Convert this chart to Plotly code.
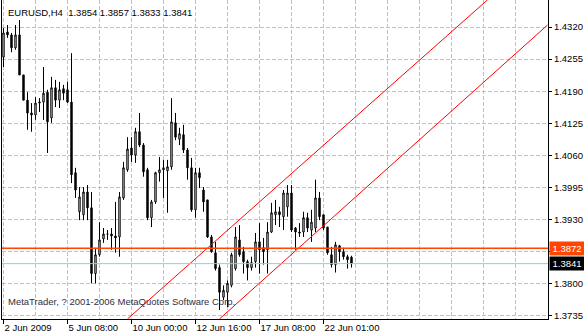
import plotly.graph_objects as go

# ---- data (EURUSD H4, bar index 0..87) ----
opens = [1.4259,1.4310,1.4304,1.4278,1.4304,1.4223,1.4172,1.4146,1.4142,1.4166,
         1.4168,1.4188,1.4136,1.4197,1.4172,1.4195,1.4193,1.4168,1.4025,1.3946,
         1.3940,1.3986,1.3954,1.3821,1.3859,1.3891,1.3901,1.3901,1.3897,1.3895,
         1.3974,1.4031,1.4075,1.4061,1.4108,1.4081,1.4031,1.3934,1.3966,1.4025,
         1.4031,1.4029,1.4037,1.4126,1.4093,1.4102,1.4071,1.4035,1.3950,1.4025,
         1.3990,1.3970,1.3895,1.3863,1.3833,1.3773,1.3783,1.3797,1.3831,1.3889,
         1.3865,1.3845,1.3833,1.3845,1.3885,1.3873,1.3869,1.3905,1.3940,1.3946,
         1.3936,1.3956,1.3984,1.3913,1.3905,1.3905,1.3934,1.3909,1.3913,1.3974,
         1.3940,1.3915,1.3859,1.3839,1.3877,1.3865,1.3855,1.3854]
highs = [1.4318,1.4324,1.4308,1.4324,1.4334,1.4223,1.4188,1.4166,1.4178,1.4176,
         1.4239,1.4193,1.4219,1.4213,1.4209,1.4203,1.4209,1.4267,1.4035,1.3996,
         1.3996,1.4000,1.3986,1.3873,1.3925,1.3913,1.3909,1.3913,1.3966,1.3986,
         1.4047,1.4097,1.4097,1.4116,1.4146,1.4085,1.4035,1.3970,1.4027,1.4057,
         1.4051,1.4051,1.4176,1.4146,1.4116,1.4122,1.4075,1.4055,1.4035,1.4035,
         1.3996,1.3970,1.3899,1.3885,1.3839,1.3797,1.3807,1.3863,1.3915,1.3919,
         1.3875,1.3849,1.3855,1.3903,1.3923,1.3893,1.3925,1.3964,1.3970,1.3956,
         1.3990,1.4000,1.4000,1.3915,1.3923,1.3946,1.3944,1.3950,1.4011,1.3986,
         1.3940,1.3915,1.3875,1.3885,1.3879,1.3873,1.3859,1.3857]
lows = [1.4239,1.4298,1.4269,1.4274,1.4223,1.4172,1.4112,1.4108,1.4132,1.4148,
        1.4132,1.4065,1.4126,1.4158,1.4156,1.4172,1.4166,1.4004,1.3974,1.3929,
        1.3929,1.3929,1.3801,1.3801,1.3855,1.3883,1.3889,1.3869,1.3863,1.3855,
        1.3970,1.4027,1.4047,1.4045,1.4077,1.4017,1.3929,1.3915,1.3962,1.4007,
        1.3974,1.3944,1.4031,1.4091,1.4081,1.4065,1.4011,1.3946,1.3934,1.3994,
        1.3946,1.3893,1.3863,1.3827,1.3747,1.3767,1.3753,1.3793,1.3827,1.3855,
        1.3821,1.3807,1.3827,1.3833,1.3821,1.3839,1.3821,1.3903,1.3919,1.3915,
        1.3909,1.3936,1.3905,1.3869,1.3895,1.3895,1.3905,1.3885,1.3905,1.3929,
        1.3909,1.3859,1.3833,1.3823,1.3845,1.3849,1.3831,1.3833]
closes = [1.4308,1.4304,1.4278,1.4304,1.4223,1.4172,1.4146,1.4142,1.4166,1.4168,
          1.4186,1.4128,1.4197,1.4172,1.4193,1.4186,1.4168,1.4021,1.3990,1.3976,
          1.3986,1.3954,1.3821,1.3859,1.3889,1.3901,1.3901,1.3897,1.3893,1.3976,
          1.4035,1.4073,1.4061,1.4108,1.4081,1.4027,1.3934,1.3966,1.4025,1.4031,
          1.4035,1.4037,1.4128,1.4097,1.4104,1.4071,1.4035,1.3950,1.4025,1.4015,
          1.3966,1.3895,1.3865,1.3831,1.3783,1.3787,1.3801,1.3859,1.3895,1.3859,
          1.3845,1.3833,1.3843,1.3885,1.3869,1.3865,1.3905,1.3944,1.3946,1.3940,
          1.3984,1.3984,1.3909,1.3905,1.3903,1.3934,1.3913,1.3925,1.3974,1.3936,
          1.3913,1.3863,1.3839,1.3879,1.3865,1.3855,1.3849,1.3841]
bars = list(range(len(opens)))

tick_bars = [0, 16, 32, 48, 64, 80]
tick_labels = ["2 Jun 2009", "5 Jun 08:00", "10 Jun 00:00", "12 Jun 16:00",
               "17 Jun 08:00", "22 Jun 01:00"]

price_ticks = [1.3735, 1.3800, 1.3865, 1.3930, 1.3995, 1.4060, 1.4125, 1.4190, 1.4255, 1.4320]
price_labels = ["1.3735", "1.3800", "", "1.3930", "1.3995", "1.4060", "1.4125", "1.4190", "1.4255", "1.4320"]

channel_upper_x = [31, 121]
channel_upper_y = [1.3729, 1.4375]
channel_lower_x = [54, 136]
channel_lower_y = [1.3729, 1.4324]

level_price = 1.3872
bid_price = 1.3841
header = "EURUSD,H4  1.3854 1.3857 1.3833 1.3841"
footer = "MetaTrader, ? 2001-2006 MetaQuotes Software Corp."

FONT = "Liberation Sans"
GRID = "#8ed6e0"

fig = go.Figure()
fig.add_trace(go.Candlestick(
    x=bars, open=opens, high=highs, low=lows, close=closes,
    increasing=dict(fillcolor="white", line=dict(color="black", width=1)),
    decreasing=dict(fillcolor="black", line=dict(color="black", width=1)),
    whiskerwidth=0, hoverinfo="skip", showlegend=False))

fig.add_trace(go.Scatter(x=channel_upper_x, y=channel_upper_y, mode="lines",
                         line=dict(color="#ff0000", width=1), showlegend=False, hoverinfo="skip"))
fig.add_trace(go.Scatter(x=channel_lower_x, y=channel_lower_y, mode="lines",
                         line=dict(color="#ff0000", width=1), showlegend=False, hoverinfo="skip"))

fig.add_hline(y=bid_price, line=dict(color="#80d4e4", width=1))
fig.add_hline(y=level_price, line=dict(color="#ff4500", width=1.5))

fig.update_layout(
    width=584, height=332,
    margin=dict(l=2, r=36, t=0, b=13),
    paper_bgcolor="white", plot_bgcolor="white",
    font=dict(family=FONT, size=9.5, color="black"),
    showlegend=False,
    boxgap=0.5,
    xaxis=dict(
        range=[-0.375, 136.125], rangeslider=dict(visible=False),
        tickmode="array", tickvals=tick_bars, ticktext=tick_labels,
        ticks="outside", ticklen=4, tickcolor="black",
        ticklabelposition="outside right",
        showline=True, linecolor="black", linewidth=1,
        showgrid=True, gridcolor=GRID, griddash="4px,2px", gridwidth=1,
        minor=dict(dtick=8, tick0=0, showgrid=True, gridcolor=GRID, griddash="4px,2px"),
        zeroline=False, automargin=False,
    ),
    yaxis=dict(
        range=[1.37289, 1.43747], side="right",
        tickmode="array", tickvals=price_ticks, ticktext=price_labels,
        ticks="outside", ticklen=3, tickcolor="black",
        showline=True, mirror=True, linecolor="black", linewidth=1,
        showgrid=True, gridcolor=GRID, griddash="4px,2px", gridwidth=1,
        zeroline=False, automargin=False,
    ),
    annotations=[
        dict(text=header, xref="paper", yref="paper", x=0.008, y=0.985,
             xanchor="left", yanchor="top", showarrow=False,
             font=dict(family=FONT, size=9.5, color="black")),
        dict(text=footer, xref="paper", yref="paper", x=0.008, y=0.03,
             xanchor="left", yanchor="bottom", showarrow=False,
             font=dict(family=FONT, size=9.5, color="#303040")),
        dict(text=f"{level_price:.4f}", xref="paper", yref="y", x=1, y=level_price,
             xanchor="left", yanchor="middle", xshift=1, showarrow=False,
             bgcolor="#ff4500", borderpad=1, width=32,
             font=dict(family=FONT, size=9.5, color="white")),
        dict(text=f"{bid_price:.4f}", xref="paper", yref="y", x=1, y=bid_price,
             xanchor="left", yanchor="middle", xshift=1, showarrow=False,
             bgcolor="black", borderpad=1, width=32,
             font=dict(family=FONT, size=9.5, color="white")),
    ],
)

fig.write_html("out.html")
